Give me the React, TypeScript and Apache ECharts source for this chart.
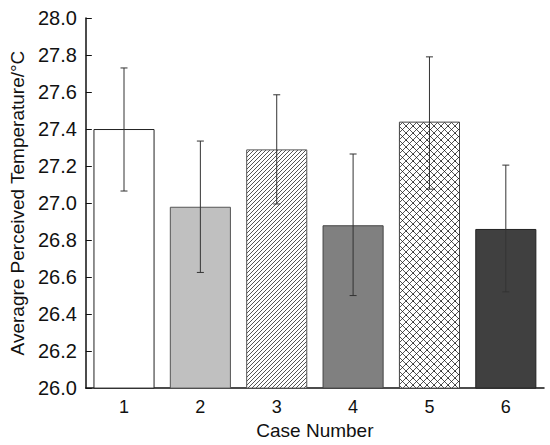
import React, { useEffect, useRef } from "react";
import * as echarts from "echarts";

const categories = ["1", "2", "3", "4", "5", "6"];
const meanValues = [27.4, 26.98, 27.29, 26.88, 27.44, 26.86];
const errUpper = [27.73, 27.335, 27.585, 27.265, 27.79, 27.205];
const errLower = [27.065, 26.625, 26.995, 26.5, 27.075, 26.52];
const yTicks = [26.0, 26.2, 26.4, 26.6, 26.8, 27.0, 27.2, 27.4, 27.6, 27.8, 28.0];

function makeHatch(): HTMLCanvasElement {
  const s = 4;
  const c = document.createElement("canvas");
  c.width = s;
  c.height = s;
  const ctx = c.getContext("2d")!;
  ctx.fillStyle = "#ffffff";
  ctx.fillRect(0, 0, s, s);
  ctx.strokeStyle = "#555555";
  ctx.lineWidth = 1;
  ctx.beginPath();
  for (const o of [-s, 0, s]) {
    ctx.moveTo(o, s);
    ctx.lineTo(o + s, 0);
  }
  ctx.stroke();
  return c;
}

function makeCross(): HTMLCanvasElement {
  const s = 7;
  const c = document.createElement("canvas");
  c.width = s;
  c.height = s;
  const ctx = c.getContext("2d")!;
  ctx.fillStyle = "#ffffff";
  ctx.fillRect(0, 0, s, s);
  ctx.strokeStyle = "#555555";
  ctx.lineWidth = 1;
  ctx.beginPath();
  for (const o of [-s, 0, s]) {
    ctx.moveTo(o, s);
    ctx.lineTo(o + s, 0);
    ctx.moveTo(o, 0);
    ctx.lineTo(o + s, s);
  }
  ctx.stroke();
  ctx.fillStyle = "#222222";
  ctx.fillRect(0, 0, 1, 1);
  ctx.fillRect(Math.floor(s / 2), Math.floor(s / 2), 1, 1);
  return c;
}

export default function App() {
  const ref = useRef<HTMLDivElement>(null);
  useEffect(() => {
    if (!ref.current) return;
    const chart = echarts.init(ref.current, null, { renderer: "svg" });
    const hatch = { image: makeHatch(), repeat: "repeat" };
    const cross = { image: makeCross(), repeat: "repeat" };
    const fills: any[] = ["#ffffff", "#c0c0c0", hatch, "#808080", cross, "#404040"];
    const borders = ["#222222", "#555555", "#555555", "#444444", "#444444", "#222222"];
    const font = "Liberation Sans, Arial, sans-serif";

    chart.setOption({
      animation: false,
      grid: { left: 81, top: 18, right: 6, bottom: 55, containLabel: false },
      xAxis: {
        type: "category",
        data: categories,
        name: "Case Number",
        nameLocation: "middle",
        nameGap: 31,
        nameTextStyle: { fontSize: 19, color: "#111", fontFamily: font },
        axisLine: { lineStyle: { color: "#111", width: 1.5 } },
        axisTick: { inside: true, length: 4, lineStyle: { color: "#111" } },
        axisLabel: { fontSize: 18, color: "#111", fontFamily: font, margin: 10 },
      },
      yAxis: {
        type: "value",
        min: 26,
        max: 28,
        interval: 0.2,
        name: "Averagre Perceived Temperature/\u00B0C",
        nameLocation: "middle",
        nameGap: 53,
        nameTextStyle: { fontSize: 19, color: "#111", fontFamily: font },
        axisLine: { show: true, lineStyle: { color: "#111", width: 1.5 } },
        axisTick: { show: true, inside: true, length: 6, lineStyle: { color: "#111" } },
        splitLine: { show: false },
        axisLabel: {
          fontSize: 20,
          color: "#111",
          fontFamily: font,
          margin: 9,
          formatter: (v: number) => {
            const t = yTicks.find((x) => Math.abs(x - v) < 1e-6);
            return (t ?? v).toFixed(1);
          },
        },
      },
      series: [
        {
          type: "bar",
          barWidth: "80%",
          data: meanValues.map((v, i) => ({
            value: v,
            itemStyle: { color: fills[i], borderColor: borders[i], borderWidth: 1 },
          })),
          z: 2,
        },
        {
          type: "custom",
          z: 5,
          data: categories.map((_, i) => [i, errLower[i], errUpper[i]]),
          renderItem: (params: any, api: any) => {
            const x = api.value(0);
            const lo = api.coord([x, api.value(1)]);
            const hi = api.coord([x, api.value(2)]);
            const hw = 3.5;
            const style = { stroke: "#333333", lineWidth: 1 };
            return {
              type: "group",
              children: [
                { type: "line", shape: { x1: lo[0], y1: lo[1], x2: hi[0], y2: hi[1] }, style },
                { type: "line", shape: { x1: hi[0] - hw, y1: hi[1], x2: hi[0] + hw, y2: hi[1] }, style },
                { type: "line", shape: { x1: lo[0] - hw, y1: lo[1], x2: lo[0] + hw, y2: lo[1] }, style },
              ],
            };
          },
        },
      ],
    });
    return () => chart.dispose();
  }, []);
  return (
    <div
      ref={ref}
      style={{ position: "absolute", left: 0, top: 0, width: 550, height: 445 }}
    />
  );
}
